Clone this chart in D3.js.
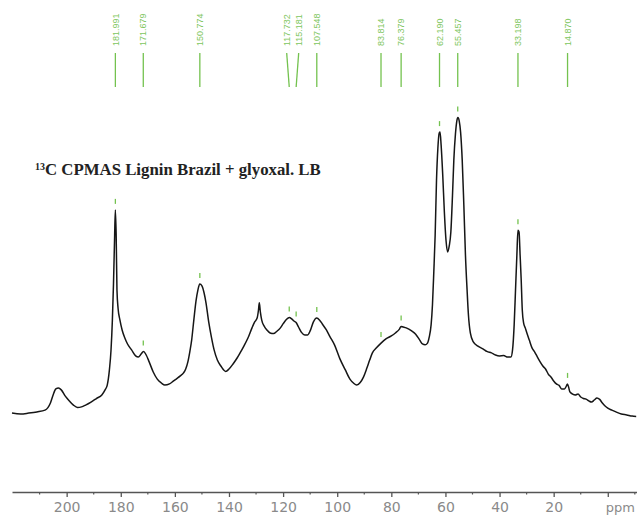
<!DOCTYPE html>
<html>
<head>
<meta charset="utf-8">
<script src="https://cdn.jsdelivr.net/npm/d3@7"></script>
<style>
  body { margin: 0; background: #fff; }
  svg { display: block; }
</style>
</head>
<body>
<div id="chart"></div>
<script>
// spectrum trace (ppm, relative intensity)
const ppm = [220.2, 217, 214, 211, 208, 206, 205, 204, 203, 202, 200.5, 199, 197.5, 196, 194.5, 193, 191, 189, 187, 185.8,
  185, 184.2, 183.6, 183.1, 182.7, 182.3, 182.0, 181.7, 181.4, 181.0, 180.3, 179.5, 178.5, 177.5, 176, 174.5, 173.5, 172.5, 171.6, 170.6,
  169.5, 168, 166.5, 165, 163.7, 162, 160.5, 159.3, 158, 156.8, 156, 155.2, 154.5, 153.8, 153, 152.2, 151.5, 150.8, 150, 149.2,
  148.5, 147.5, 146.5, 145.5, 144.3, 143, 141.2, 140, 138.5, 137, 135.9, 134.5, 133, 131.5, 130.5, 129.6, 129.1, 128.8, 128.4, 127.9,
  127, 126, 124.8, 123.5, 122.4, 121, 119.9, 118.8, 117.7, 116.8, 116, 115.2, 114.3, 113.2, 112, 111, 110, 108.8, 107.6, 106.5,
  105.5, 104, 102.7, 101, 99, 97, 95.3, 94, 92.8, 91.5, 90.3, 89, 88, 87, 85.5, 83.8, 82, 80, 78.5, 77,
  76.4, 75.6, 74.5, 72.5, 71, 69.5, 68.5, 67.5, 66.7, 66, 65.3, 64.8, 64.3, 63.8, 63.3, 62.8, 62.3, 62.0, 61.6, 61.0,
  60.4, 59.8, 59.2, 58.6, 58.0, 57.4, 56.9, 56.3, 55.8, 55.4, 54.9, 54.4, 53.8, 53.2, 52.6, 52, 51.5, 50.8, 49.7, 48,
  46, 44.7, 43, 41.5, 40, 38.5, 37, 35.8, 35.2, 34.6, 34.1, 33.6, 33.2, 32.8, 32.4, 32.0, 31.6, 31.1, 30.5, 29.9,
  29, 28, 27, 26, 25, 24, 23, 22, 21, 20, 19, 18, 17, 16, 15.3, 14.9, 14.5, 14, 13, 12,
  11, 10, 9, 8, 7, 6, 5, 4, 3, 2, 1, 0, -1.5, -3, -5, -7, -9, -10.5];
const intensity = [0.8, 0.5, 0.8, 1.2, 1.8, 4.2, 6.9, 8.9, 9.2, 8.6, 6.5, 4.9, 3.5, 2.7, 2.9, 3.5, 4.5, 5.7, 6.9, 8.6,
  10.2, 15.3, 22, 32, 43.8, 58.9, 69, 60.6, 42, 36, 32, 28.7, 26, 24, 22, 20, 19.6, 20.6, 21.5, 20.3,
  18, 14.6, 12.2, 10.9, 10.2, 10.6, 11.6, 12.4, 13.3, 14.3, 15.6, 18, 21.3, 25.3, 32, 38.4, 42.1, 44.1, 43.5, 41.1,
  37.8, 31.4, 26.3, 22, 18.6, 16.6, 14.8, 15.6, 17.3, 19.3, 21, 23.3, 26, 29.4, 31.4, 32.7, 35.4, 37.8, 34.7, 32,
  30, 28.7, 27.7, 27.5, 28.2, 29.4, 30.9, 32.2, 32.9, 32.4, 31.7, 31.2, 29.7, 27.9, 27, 27, 28.4, 31.4, 32.7, 32,
  30.7, 28.7, 26.5, 23.7, 19, 15.3, 12.2, 10.9, 10.2, 11.1, 12.9, 16, 18.6, 21, 22.7, 24.3, 25.7, 26.7, 27.7, 29,
  29.9, 29.7, 29.4, 28.4, 27.3, 25.3, 24, 23.7, 24.2, 26.3, 30.4, 37.1, 48.2, 60.6, 79, 89.7, 94.8, 95.1, 90.8, 80.7,
  68.3, 58.9, 54.9, 56.9, 61.6, 73.7, 85.7, 94.5, 98.8, 100, 98.8, 95.1, 85.7, 70.6, 53.8, 42.1, 33.7, 27.7, 24.7, 23.3,
  22.3, 21.5, 21, 20.3, 20, 20.1, 19.6, 19.6, 22, 30.4, 42.1, 53.8, 62.2, 61.6, 53.8, 45.5, 35.4, 31, 29.4, 27.7,
  25.3, 22.7, 21.3, 19.6, 18, 16.6, 15.6, 13.9, 12.9, 11.6, 10.6, 10.1, 8.9, 8.9, 9.9, 10.6, 9.6, 7.9, 7.2, 6.9,
  7.2, 6.2, 5.7, 5.5, 4.9, 4.5, 5.2, 5.9, 5.4, 4.2, 3.2, 2.5, 1.8, 1.2, 0.5, 0.2, -0.2, -0.3];

// picked peaks
const peaks = [181.991, 171.679, 150.774, 117.732, 115.181, 107.548, 83.814, 76.379, 62.190, 55.457, 33.198, 14.870];

// axis ticks
const majorTicks = [200, 180, 160, 140, 120, 100, 80, 60, 40, 20, 0];
const minorTicks = [210, 190, 170, 150, 130, 110, 90, 70, 50, 30, 10, -10];

const title = "C CPMAS Lignin Brazil + glyoxal. LB";

const width = 637, height = 515;
const green = "#74c24f";

const svg = d3.select("#chart").append("svg")
  .attr("width", width)
  .attr("height", height);

const x = d3.scaleLinear().domain([220.2, -10.8]).range([12, 637]);
const y = d3.scaleLinear().domain([0, 100]).range([415.5, 117.5]);

const points = ppm.map((p, i) => ({ p: p, v: intensity[i] }));

// spectrum
svg.append("path")
  .datum(points)
  .attr("fill", "none")
  .attr("stroke", "#161616")
  .attr("stroke-width", 1.5)
  .attr("stroke-linejoin", "round")
  .attr("d", d3.line().x(d => x(d.p)).y(d => y(d.v)).curve(d3.curveMonotoneX));

// intensity at a given ppm, linear between read points
function valueAt(p) {
  for (let i = 0; i < points.length - 1; i++) {
    const a = points[i], b = points[i + 1];
    if (p <= a.p && p >= b.p) {
      const t = (a.p - p) / (a.p - b.p);
      return a.v + t * (b.v - a.v);
    }
  }
  return 0;
}
function topNear(p) {
  return d3.max(points.filter(q => Math.abs(q.p - p) < 0.6), q => q.v) || valueAt(p);
}

// small green marks above peaks
svg.append("g").selectAll("line")
  .data(peaks)
  .enter()
  .append("line")
  .attr("x1", d => x(d)).attr("x2", d => x(d))
  .attr("y1", d => y(topNear(d)) - 11)
  .attr("y2", d => y(topNear(d)) - 6)
  .attr("stroke", green)
  .attr("stroke-width", 1.3);

// spread peak labels that would overlap
const minGap = 12;
const labels = peaks.map(p => ({ p: p, px: x(p), lx: x(p) }));
for (let k = 0; k < 10; k++) {
  for (let i = 0; i < labels.length - 1; i++) {
    const a = labels[i], b = labels[i + 1];
    if (b.lx - a.lx < minGap) {
      const mid = (a.lx + b.lx) / 2;
      a.lx = mid - minGap / 2;
      b.lx = mid + minGap / 2;
    }
  }
}

const lab = svg.append("g");
lab.selectAll("line")
  .data(labels)
  .enter()
  .append("line")
  .attr("x1", d => d.lx).attr("y1", 53)
  .attr("x2", d => d.px).attr("y2", 87)
  .attr("stroke", green)
  .attr("stroke-width", 1.3);

lab.selectAll("text")
  .data(labels)
  .enter()
  .append("text")
  .attr("transform", d => `translate(${d.lx},46) rotate(-90)`)
  .attr("dy", "0.35em")
  .attr("font-family", "Liberation Sans, Arial, sans-serif")
  .attr("font-size", 9)
  .attr("fill", "#80c660")
  .text(d => d.p.toFixed(3));

// title
const t = svg.append("text")
  .attr("x", 35)
  .attr("y", 175)
  .attr("font-family", "Liberation Serif, Times New Roman, serif")
  .attr("font-weight", "bold")
  .attr("fill", "#222");
t.append("tspan").attr("font-size", 10).attr("dy", -5).text("13");
t.append("tspan").attr("font-size", 16.8).attr("dy", 5).text(title);

// x axis
const axis = svg.append("g")
  .attr("transform", "translate(0,492)")
  .call(d3.axisBottom(x)
    .tickValues(majorTicks)
    .tickSize(5)
    .tickSizeOuter(0)
    .tickPadding(5)
    .tickFormat(d => d === 0 ? "" : d));
axis.select(".domain").attr("stroke", "#555").attr("stroke-width", 1.6);
axis.selectAll(".tick line").attr("stroke", "#555").attr("stroke-width", 1.3);
axis.selectAll(".tick text")
  .attr("font-family", "DejaVu Sans, sans-serif")
  .attr("font-size", 14)
  .attr("fill", "#8a8a8a");

axis.selectAll(".minor")
  .data(minorTicks)
  .enter()
  .append("line")
  .attr("class", "minor")
  .attr("x1", d => x(d)).attr("x2", d => x(d))
  .attr("y1", 0).attr("y2", 2.5)
  .attr("stroke", "#555")
  .attr("stroke-width", 1.2);

axis.append("text")
  .attr("x", x(0) - 2)
  .attr("y", 20)
  .attr("font-family", "DejaVu Sans, sans-serif")
  .attr("font-size", 13)
  .attr("fill", "#8a8a8a")
  .attr("text-anchor", "start")
  .text("ppm");
</script>
</body>
</html>
